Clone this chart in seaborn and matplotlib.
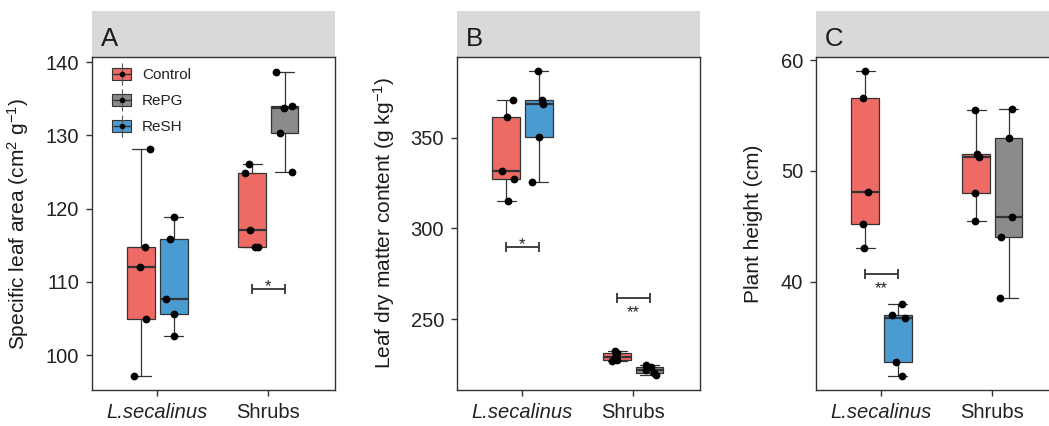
import numpy as np
import pandas as pd
import matplotlib
matplotlib.use("Agg")
import matplotlib.pyplot as plt
from matplotlib.patches import Rectangle, Patch
from matplotlib.lines import Line2D
from matplotlib.legend_handler import HandlerTuple
import seaborn as sns

# ---------------- data ----------------
groups = ["L.secalinus", "Shrubs"]
treatments = ["Control", "RePG", "ReSH"]
panel_letters = ["A", "B", "C"]
ylabels = ["Specific leaf area (cm$^{2}$ g$^{-1}$)",
           "Leaf dry matter content (g kg$^{-1}$)",
           "Plant height (cm)"]

sla_lsec_control = [97.2, 104.9, 112.1, 114.8, 128.1]
sla_lsec_resh = [102.6, 105.6, 107.7, 115.9, 118.9]
sla_shrub_control = [114.7, 114.8, 117.1, 124.9, 126.1]
sla_shrub_repg = [125.0, 130.3, 133.7, 134.05, 138.7]

ldmc_lsec_control = [314.8, 326.9, 331.5, 361.6, 370.6]
ldmc_lsec_resh = [325.6, 350.4, 368.7, 370.6, 386.5]
ldmc_shrub_control = [227.0, 227.6, 229.2, 231.3, 232.6]
ldmc_shrub_repg = [219.0, 220.2, 222.0, 223.8, 224.6]

ph_lsec_control = [43.0, 45.2, 48.1, 56.6, 59.0]
ph_lsec_resh = [31.5, 32.7, 36.7, 37.0, 38.0]
ph_shrub_control = [45.5, 48.0, 51.3, 51.5, 55.5]
ph_shrub_repg = [38.55, 44.0, 45.8, 53.0, 55.6]

yticks = [[100, 110, 120, 130, 140], [250, 300, 350], [40, 50, 60]]
ylims = [(95.25, 140.7), (210.9, 394.4), (30.2, 60.3)]

# significance brackets: panel, group, y, label, side
sig_panel = [0, 1, 1, 2]
sig_group = [1, 0, 1, 0]
sig_y = [109.0, 289.6, 261.6, 40.7]
sig_text = ["*", "*", "**", "**"]
sig_side = ["above", "above", "below", "below"]

palette = {"Control": "#EE6B65", "RePG": "#8B8B8B", "ReSH": "#4A9BD1"}

# ---------------- long table ----------------
panel_data = [
    [("L.secalinus", "Control", sla_lsec_control), ("L.secalinus", "ReSH", sla_lsec_resh),
     ("Shrubs", "Control", sla_shrub_control), ("Shrubs", "RePG", sla_shrub_repg)],
    [("L.secalinus", "Control", ldmc_lsec_control), ("L.secalinus", "ReSH", ldmc_lsec_resh),
     ("Shrubs", "Control", ldmc_shrub_control), ("Shrubs", "RePG", ldmc_shrub_repg)],
    [("L.secalinus", "Control", ph_lsec_control), ("L.secalinus", "ReSH", ph_lsec_resh),
     ("Shrubs", "Control", ph_shrub_control), ("Shrubs", "RePG", ph_shrub_repg)],
]

DODGE = 0.146
rows = []
for p, entries in enumerate(panel_data):
    for g, t, vals in entries:
        slot = 0 if t == "Control" else 1
        xpos = groups.index(g) + (slot - 0.5) * 2 * DODGE
        for v in vals:
            rows.append(dict(panel=p, group=g, treatment=t, xpos=xpos, value=v))
df = pd.DataFrame(rows)

# ---------------- style ----------------
sns.set_style("ticks")
plt.rcParams["font.family"] = ["Liberation Sans", "DejaVu Sans"]
plt.rcParams["mathtext.fontset"] = "custom"
plt.rcParams["mathtext.rm"] = "Liberation Sans"
plt.rcParams["mathtext.it"] = "Liberation Sans:italic"
plt.rcParams["mathtext.default"] = "regular"

W, H = 1049, 426
fig = plt.figure(figsize=(W / 100, H / 100), dpi=100)
lefts = [92, 457, 816]
ax_w, ax_h, ax_b = 243, 333, 36
label_x = [-0.251, -0.247, -0.218]
np.random.seed(7)

line_c = "#333333"
for p in range(3):
    ax = fig.add_axes([lefts[p] / W, ax_b / H, ax_w / W, ax_h / H])
    d = df[df.panel == p]
    sns.boxplot(data=d, x="xpos", y="value", hue="treatment", hue_order=treatments,
                palette=palette, native_scale=True, dodge=False, width=0.856,
                saturation=1, linecolor=line_c, linewidth=0.9, fliersize=0,
                whis=1.5, legend=False, ax=ax, capwidths=0.17,
                medianprops=dict(linewidth=1.6))
    sns.stripplot(data=d, x="xpos", y="value", native_scale=True, color="black",
                  size=5.6, jitter=0.27, ax=ax, legend=False, zorder=3)
    ax.set_xlim(-0.59, 1.60)
    ax.set_ylim(*ylims[p])
    ax.set_xticks([0, 1])
    ax.set_xticklabels(groups)
    ax.get_xticklabels()[0].set_style("italic")
    ax.set_yticks(yticks[p])
    ax.set_xlabel("")
    ax.set_ylabel(ylabels[p], fontsize=15, color="#1a1a1a")
    ax.yaxis.set_label_coords(label_x[p], 0.5)
    for s in ax.spines.values():
        s.set_visible(True)
        s.set_color(line_c)
        s.set_linewidth(1.0)
    ax.tick_params(length=4.3, width=1.0, color=line_c, labelsize=14.5,
                   labelcolor="#222222", pad=5)
    # facet strip
    ax.add_patch(Rectangle((0, 1), 1, 46 / ax_h, transform=ax.transAxes,
                           clip_on=False, facecolor="#D9D9D9", edgecolor="none", zorder=0))
    ax.text(9 / ax_w, 1 + (57 - 38.5) / ax_h, panel_letters[p], transform=ax.transAxes,
            fontsize=18.5, ha="left", va="center", color="#1a1a1a")

    # significance brackets
    for sp, sg, sy, st, ss in zip(sig_panel, sig_group, sig_y, sig_text, sig_side):
        if sp != p:
            continue
        x1, x2 = sg - DODGE, sg + DODGE
        ax.plot([x1, x2], [sy, sy], color=line_c, lw=1.3, solid_capstyle="butt")
        ax.plot([x1, x2], [sy, sy], linestyle="none", marker="|", markersize=7,
                markeredgewidth=1.3, color=line_c)
        off = -1.5 if ss == "above" else -14.0
        ax.annotate(st, ((x1 + x2) / 2, sy), xytext=(0, off), textcoords="offset points",
                    ha="center", va="baseline", fontsize=12, color="#222222")

    if p == 0:
        handles = []
        for t in treatments:
            box = Patch(facecolor=palette[t], edgecolor=line_c, linewidth=0.8)
            vline = Line2D([], [], marker="|", markersize=16, markeredgewidth=0.8,
                           color="#555555", linestyle="none")
            hline = Line2D([], [], marker="_", markersize=13.5, markeredgewidth=1.0,
                           color=line_c, linestyle="none")
            dot = Line2D([], [], marker="o", markersize=3, color="black", linestyle="none")
            handles.append((box, vline, hline, dot))
        ax.legend(handles, treatments,
                  handler_map={tuple: HandlerTuple(ndivide=1, pad=0)},
                  loc="upper left", bbox_to_anchor=(20 / ax_w, 1 - 11 / ax_h),
                  frameon=False, borderpad=0, borderaxespad=0, fontsize=11,
                  handlelength=1.25, handleheight=0.8, handletextpad=0.7,
                  labelspacing=0.78, numpoints=1, labelcolor="#222222")

fig.savefig("out.png", dpi=100)
